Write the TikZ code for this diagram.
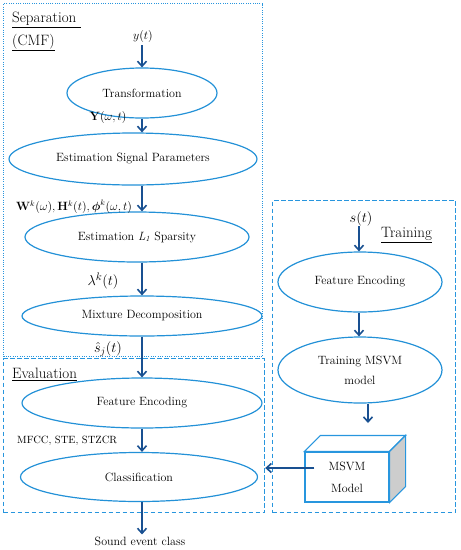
\documentclass[tikz,border=0pt]{standalone}
\usepackage{amsmath}
\usetikzlibrary{arrows.meta,calc,shapes.geometric}
\definecolor{ellc}{RGB}{35,145,215}
\definecolor{arrc}{RGB}{25,80,145}
\definecolor{boxc}{RGB}{40,150,222}
\definecolor{sidec}{RGB}{205,205,205}
\begin{document}
\begin{tikzpicture}[x=1pt,y=-1pt,
  ell/.style={draw=ellc,line width=1.2pt,ellipse,inner sep=0pt,align=center,font=\fontsize{12}{20}\selectfont},
  flow/.style={draw=arrc,line width=1.8pt,-{Straight Barb[length=5pt,width=9pt,line width=1.6pt]}},
  lbl/.style={inner sep=0pt,font=\fontsize{11.5}{13}\selectfont},
  sect/.style={inner sep=0pt,align=left,font=\fontsize{15}{23}\selectfont},
  dotbox/.style={draw=boxc,line width=1.1pt,dash pattern=on 1pt off 1.3pt,inner sep=0pt,anchor=north west},
  dashbox/.style={draw=boxc,line width=1.2pt,dash pattern=on 4.5pt off 2.5pt,inner sep=0pt,anchor=north west},
  cube/.style={draw=boxc,line width=1.1pt,fill=white,inner sep=0pt,align=center,font=\fontsize{12}{22}\selectfont}
]
\useasboundingbox (0,0) rectangle (461,550);
% frames
\node[dotbox,minimum width=259pt,minimum height=353pt] (sepbox) at (3,3) {};
\node[dashbox,minimum width=261pt,minimum height=154pt] (evalbox) at (3,358) {};
\node[dashbox,minimum width=183pt,minimum height=312pt] (trainbox) at (272,200) {};
% section labels
\node[sect,anchor=base west] (seplbl) at (12,45) {\underline{Separation\ }\\\underline{(CMF)}};
\node[sect,anchor=base west] (evallbl) at (12,378) {\underline{Evaluation}};
\node[sect,anchor=base west] (trainlbl) at (381,237) {\underline{Training}};
% left column
\node[lbl] (yin) at (143,36) {$y(t)$};
\node[ell,minimum width=150pt,minimum height=50pt] (trans) at (142,93) {Transformation};
\node[ell,minimum width=248pt,minimum height=52pt] (esp) at (133,159) {Estimation Signal Parameters};
\node[ell,minimum width=224pt,minimum height=50pt] (el1) at (137,237) {Estimation \textit{L}\textsubscript{\textit{1}} Sparsity};
\node[ell,minimum width=240pt,minimum height=40pt] (mix) at (142,316) {Mixture Decomposition};
\node[ell,minimum width=240pt,minimum height=50pt] (fe1) at (142,403) {Feature Encoding};
\node[ell,minimum width=237pt,minimum height=49pt] (cls) at (139,477) {Classification};
\node[lbl,font=\fontsize{12}{14}\selectfont] (out) at (140,541) {Sound event class};
\node[lbl] (Ylbl) at (108,117) {$\mathbf{Y}(\omega,t)$};
\node[lbl] (Wlbl) at (74,207) {$\mathbf{W}^k(\omega),\mathbf{H}^k(t),\boldsymbol{\phi}^k(\omega,t)$};
\node[lbl,font=\fontsize{15}{16}\selectfont] (lamlbl) at (103,281) {$\lambda^k(t)$};
\node[lbl,font=\fontsize{14}{16}\selectfont] (slbl) at (108,349) {$\hat{s}_j(t)$};
\node[lbl,font=\fontsize{10.5}{13}\selectfont,anchor=west] (mfcc) at (17,441) {MFCC, STE, STZCR};
\draw[flow] (yin.south -| trans.north) ++(0,3) -- (trans.north);
\draw[flow] (trans.south) -- (trans.south |- esp.north);
\draw[flow] (trans.south |- esp.south) -- (trans.south |- el1.north);
\draw[flow] (trans.south |- el1.south) -- (mix.north);
\draw[flow] (mix.south) -- (fe1.north);
\draw[flow] (fe1.south) -- (fe1.south |- cls.north);
\draw[flow] (fe1.south |- cls.south) -- ($(fe1.south |- out.north)+(0,-2)$);
% training column
\node[lbl,font=\fontsize{15}{16}\selectfont] (sin) at (361,219) {$s(t)$};
\node[ell,minimum width=164pt,minimum height=60pt] (fe2) at (360,282) {Feature Encoding};
\node[ell,minimum width=164pt,minimum height=66pt] (tmsvm) at (360,370) {Training MSVM\\model};
\node[cube,minimum width=84pt,minimum height=50pt] (msvm) at (347,477) {MSVM\\Model};
\filldraw[draw=boxc,line width=1.1pt,fill=white] (msvm.north west) -- ++(16,-16) -- ($(msvm.north east)+(16,-16)$) -- (msvm.north east) -- cycle;
\filldraw[draw=boxc,line width=1.1pt,fill=sidec] (msvm.north east) -- ++(16,-16) -- ($(msvm.south east)+(16,-16)$) -- (msvm.south east) -- cycle;
\coordinate (ts) at (359,226);
\coordinate (ta) at (359,0);
\coordinate (tb) at (368,0);
\coordinate (tc) at (368,423);
\coordinate (md) at ($(msvm.west)+(10,-9)$);
\draw[flow] (ts) -- (ta |- fe2.north);
\draw[flow] (ta |- fe2.south) -- (ta |- tmsvm.north);
\draw[flow] (tb |- tmsvm.south) -- (tc);
\draw[flow] (md) -- (md -| evalbox.east);
\end{tikzpicture}
\end{document}
